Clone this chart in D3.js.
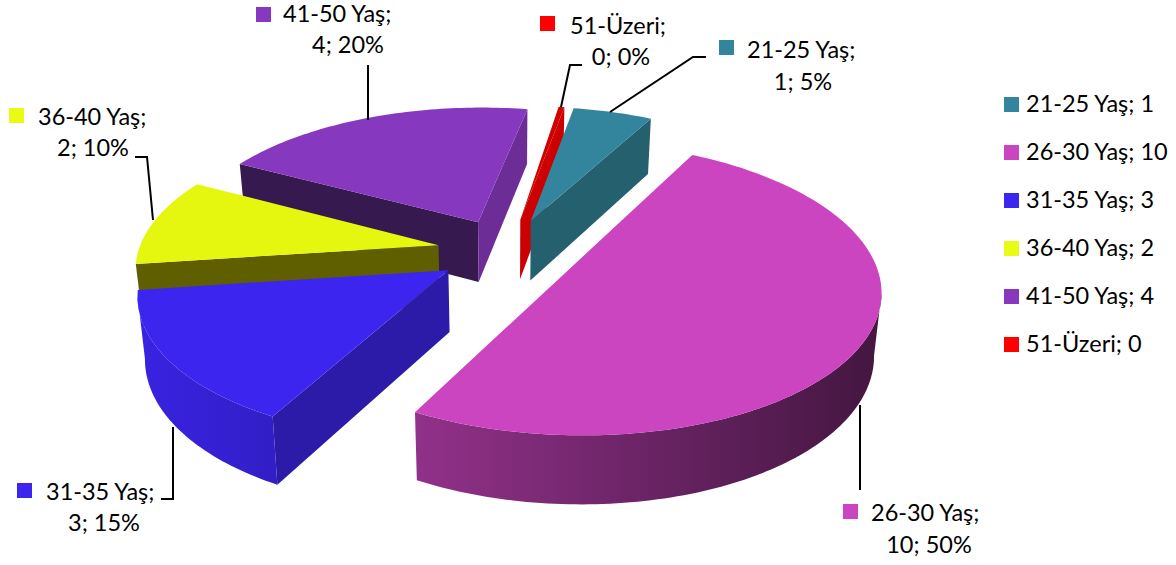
<!DOCTYPE html>
<html><head><meta charset="utf-8">
<script src="https://cdn.jsdelivr.net/npm/d3@7/dist/d3.min.js"></script>
<style>html,body{margin:0;padding:0;background:#fff}svg{display:block}text{font-family:Lato,"Open Sans",sans-serif;fill:#000}</style>
</head><body><svg id="c" width="1176" height="565"></svg>
<script>
// data
const categories = ["21-25 Yaş","26-30 Yaş","31-35 Yaş","36-40 Yaş","41-50 Yaş","51-Üzeri"];
const values = [1,10,3,2,4,0];
const percents = ["5%","50%","15%","10%","20%","0%"];
// style
const topColors = ["#33849d","#cb44c0","#3c25ef","#e6f70f","#8638bf","#d00000"];
const legendColors = ["#33849d","#cb44c0","#3c25ef","#e9fb14","#8638bf","#ff0000"];
const startFace = ["#25606f","#7a2a73","#2b1ba8","#5f5f00","#35194f","#c40000"];
const endFace = ["#25606f","#7a2a73","#2b1ba8","#5f5f00","#6d2d97","#cc0000"];
const drawOrder = [4,5,0,3,2,1];
// layout
const F = 23.5;
const P = {cx:508, cy:251, rx:300, ry:139, persp:0.145, explode:0.237, depth:61, shrink:0.98, rot:10.3*Math.PI/180, minArc:1.3*Math.PI/180};
const labelSwatch = [[719,40],[843,504],[17,483],[9,108],[256,7],[540,16]];
const labelLine1 = [[747,58],[871,521],[46,500],[38,125],[283,22],[570,34]];
const labelLine2 = [[803,90],[929,553],[104,531],[93,156],[348,53],[621,65]];
const leaders = [
 [[610,112],[693,57],[706,57]],
 [[860,405],[860,490]],
 [[173,427],[173,499],[161,499]],
 [[153,220],[147,157],[135,157]],
 [[368,120],[368,65]],
 [[561,107],[570,65],[582,65]]
];
const legendX=1004, legendY=97, legendStep=48, swatch=15;

const svg = d3.select("#c");
const shade = d3.scaleLinear().domain([130,885]).range([0.95,0.33]);
const pieGen = d3.pie().sort(null).startAngle(P.rot).endAngle(P.rot+2*Math.PI);
const arcs = pieGen(values);

function project(X,Y,bottom){
  const w = 1/(1+P.persp*Y);
  const s = bottom ? P.shrink : 1;
  return [P.cx + P.rx*X*w*s, P.cy - P.ry*Y*w*s + (bottom ? P.depth*w : 0)];
}
const line = d3.line();
const defs = svg.append("defs");
topColors.forEach((c,i)=>{
  const g = defs.append("linearGradient").attr("id","w"+i).attr("gradientUnits","userSpaceOnUse")
    .attr("x1",shade.domain()[0]).attr("x2",shade.domain()[1]).attr("y1",0).attr("y2",0);
  [0,0.25,0.5,0.75,1].forEach(t=>{
    const x = shade.domain()[0]+t*(shade.domain()[1]-shade.domain()[0]);
    const col = d3.rgb(c); const k = shade(x);
    g.append("stop").attr("offset",t).attr("stop-color",d3.rgb(col.r*k,col.g*k,col.b*k).formatHex());
  });
});

drawOrder.forEach(i=>{
  const a = arcs[i];
  let a0=a.startAngle, a1=a.endAngle;
  if(a1-a0<P.minArc){a0-=P.minArc;}
  const mid=(a.startAngle+a.endAngle)/2;
  const ox=P.explode*Math.sin(mid), oy=P.explode*Math.cos(mid);
  const n=Math.max(2,Math.ceil((a1-a0)/0.02));
  const th=d3.range(n+1).map(k=>a0+(a1-a0)*k/n);
  const model=th.map(t=>[ox+Math.sin(t),oy+Math.cos(t)]);
  const top=model.map(m=>project(m[0],m[1],false));
  const bot=model.map(m=>project(m[0],m[1],true));
  const apexT=project(ox,oy,false), apexB=project(ox,oy,true);
  const g=svg.append("g");
  // radial faces
  if(top[0][0]<apexT[0]) g.append("path").attr("d",line([apexT,top[0],bot[0],apexB])+"Z").attr("fill",startFace[i]);
  if(apexT[0]<top[n][0]) g.append("path").attr("d",line([top[n],apexT,apexB,bot[n]])+"Z").attr("fill",endFace[i]);
  // outer wall: only leftward moving samples face the viewer
  const idx=d3.range(n).filter(k=>top[k+1][0]<top[k][0]);
  if(idx.length){
    const f=idx[0], l=idx[idx.length-1]+1;
    const pts=top.slice(f,l+1).concat(bot.slice(f,l+1).reverse());
    g.append("path").attr("d",line(pts)+"Z").attr("fill","url(#w"+i+")");
  }
  // top surface
  g.append("path").attr("d",line([apexT].concat(top))+"Z").attr("fill",topColors[i]);
});

// data labels
categories.forEach((c,i)=>{
  svg.append("path").attr("d",line(leaders[i])).attr("fill","none").attr("stroke","#000").attr("stroke-width",2);
  svg.append("rect").attr("x",labelSwatch[i][0]).attr("y",labelSwatch[i][1]).attr("width",swatch).attr("height",swatch).attr("fill",legendColors[i]);
  svg.append("text").attr("x",labelLine1[i][0]).attr("y",labelLine1[i][1]).attr("font-size",F).text(c+";");
  svg.append("text").attr("x",labelLine2[i][0]).attr("y",labelLine2[i][1]).attr("font-size",F).attr("text-anchor","middle").text(values[i]+"; "+percents[i]);
  // legend
  svg.append("rect").attr("x",legendX).attr("y",legendY+i*legendStep).attr("width",swatch).attr("height",swatch).attr("fill",legendColors[i]);
  svg.append("text").attr("x",legendX+22).attr("y",legendY+15+i*legendStep).attr("font-size",F).text(c+"; "+values[i]);
});
</script></body></html>
